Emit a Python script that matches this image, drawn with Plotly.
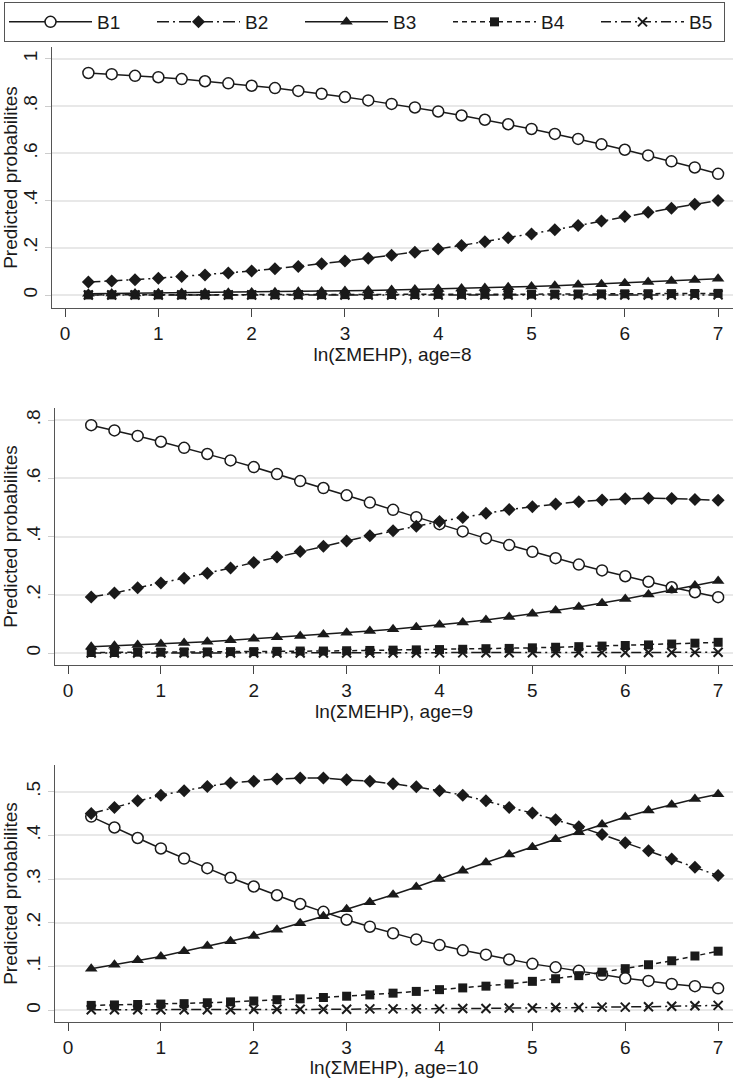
import plotly.graph_objects as go

W, H = 733, 1078

x_vals = [0.25, 0.5, 0.75, 1.0, 1.25, 1.5, 1.75, 2.0, 2.25, 2.5, 2.75, 3.0, 3.25, 3.5,
          3.75, 4.0, 4.25, 4.5, 4.75, 5.0, 5.25, 5.5, 5.75, 6.0, 6.25, 6.5, 6.75, 7.0]

series_names = ["B1", "B2", "B3", "B4", "B5"]

# age = 8
age8_B1 = [.940, .935, .928, .922, .914, .905, .896, .886, .876, .864, .852, .838, .824, .809,
           .794, .777, .760, .742, .723, .703, .682, .661, .638, .615, .591, .566, .540, .513]
age8_B2 = [.055, .059, .065, .071, .078, .085, .093, .102, .111, .121, .132, .144, .156, .168,
           .181, .195, .210, .226, .242, .258, .276, .294, .313, .332, .350, .367, .384, .400]
age8_B3 = [.005, .006, .006, .007, .008, .009, .010, .011, .012, .014, .015, .017, .019, .021,
           .023, .025, .028, .030, .033, .036, .039, .043, .046, .050, .055, .059, .064, .069]
age8_B4 = [.0005, .0005, .0006, .0007, .0008, .0009, .0010, .0011, .0012, .0014, .0015, .0017, .0019, .0021,
           .0023, .0025, .0028, .0030, .0033, .0036, .0039, .0043, .0047, .0051, .0055, .0060, .0065, .0070]
age8_B5 = [.0001, .0001, .0001, .0001, .0001, .0001, .0001, .0001, .0001, .0001, .0001, .0001, .0001, .0001,
           .0002, .0002, .0002, .0002, .0002, .0002, .0002, .0002, .0003, .0003, .0003, .0003, .0003, .0004]

# age = 9
age9_B1 = [.783, .765, .746, .726, .705, .684, .662, .639, .615, .591, .567, .542, .517, .492,
           .467, .443, .418, .394, .371, .348, .326, .304, .284, .264, .245, .226, .209, .192]
age9_B2 = [.193, .206, .224, .241, .257, .274, .292, .311, .330, .349, .367, .385, .403, .420,
           .436, .452, .466, .480, .493, .503, .512, .520, .526, .530, .532, .531, .528, .525]
age9_B3 = [.022, .025, .028, .031, .035, .039, .044, .049, .054, .059, .064, .070, .076, .082,
           .089, .097, .105, .114, .124, .135, .146, .158, .171, .186, .201, .216, .232, .248]
age9_B4 = [.002, .002, .003, .003, .004, .004, .005, .005, .006, .007, .007, .008, .009, .010,
           .011, .012, .013, .015, .016, .018, .020, .022, .024, .026, .028, .031, .034, .037]
age9_B5 = [.0001, .0001, .0001, .0001, .0002, .0002, .0002, .0002, .0003, .0003, .0003, .0004, .0004, .0005,
           .0005, .0006, .0007, .0008, .0009, .0010, .0011, .0013, .0015, .0017, .0019, .0022, .0025, .0028]

# age = 10
age10_B1 = [.443, .418, .394, .370, .347, .325, .303, .283, .263, .243, .225, .207, .191, .176,
            .162, .149, .137, .127, .116, .106, .098, .090, .081, .073, .067, .060, .055, .050]
age10_B2 = [.450, .464, .479, .492, .502, .512, .520, .524, .529, .531, .531, .527, .524, .518,
            .511, .502, .492, .479, .464, .451, .436, .420, .402, .383, .365, .346, .327, .308]
age10_B3 = [.095, .104, .114, .123, .135, .147, .158, .170, .184, .199, .215, .231, .247, .264,
            .282, .300, .319, .338, .356, .373, .391, .407, .425, .442, .457, .470, .483, .494]
age10_B4 = [.011, .012, .013, .014, .015, .017, .019, .021, .024, .026, .029, .032, .035, .039,
            .043, .047, .051, .055, .060, .066, .072, .079, .087, .095, .104, .113, .124, .135]
age10_B5 = [.001, .001, .001, .001, .001, .001, .001, .002, .002, .002, .002, .002, .003, .003,
            .003, .003, .004, .004, .005, .005, .006, .006, .007, .007, .008, .009, .010, .011]

panels = [
    [age8_B1, age8_B2, age8_B3, age8_B4, age8_B5],
    [age9_B1, age9_B2, age9_B3, age9_B4, age9_B5],
    [age10_B1, age10_B2, age10_B3, age10_B4, age10_B5],
]
x_titles = ["ln(\u03a3MEHP), age=8", "ln(\u03a3MEHP), age=9", "ln(\u03a3MEHP), age=10"]
y_ticks = [[0, .2, .4, .6, .8, 1], [0, .2, .4, .6, .8], [0, .1, .2, .3, .4, .5]]
y_ticktext = [["0", ".2", ".4", ".6", ".8", "1"], ["0", ".2", ".4", ".6", ".8"],
              ["0", ".1", ".2", ".3", ".4", ".5"]]
y_ranges = [[-0.055, 1.05], [-0.041, 0.842], [-0.027, 0.561]]
x_ticks = [0, 1, 2, 3, 4, 5, 6, 7]

INK = "#1a1a1a"
styles = [
    dict(dash="solid", symbol="circle", size=11, fill="white", lw=1.5),
    dict(dash="12px,4px,2px,4px", symbol="diamond", size=10, fill=INK, lw=0),
    dict(dash="solid", symbol="triangle-up", size=11, fill=INK, lw=0),
    dict(dash="5px,4px", symbol="square", size=9, fill=INK, lw=0),
    dict(dash="10px,4px,2px,4px", symbol="x-thin-open", size=9, fill=INK, lw=2),
]

# pixel layout of the plot regions (left, top, bottom)
regions = [(52, 47, 308), (55, 408, 665), (55, 765, 1022)]

FONT = "Liberation Sans, Arial, sans-serif"
fig = go.Figure()
layout = dict(
    width=W, height=H, margin=dict(l=0, r=0, t=0, b=0),
    paper_bgcolor="white", plot_bgcolor="white",
    font=dict(family=FONT, size=19, color=INK),
    showlegend=True,
    legend=dict(orientation="h", x=4 / W, y=1 - 2 / H, xanchor="left", yanchor="top",
                bordercolor="#555555", borderwidth=1, bgcolor="white",
                font=dict(size=19), entrywidth=50, itemwidth=83),
)

for p, data in enumerate(panels):
    xa = "x" if p == 0 else f"x{p+1}"
    ya = "y" if p == 0 else f"y{p+1}"
    for s, (name, vals) in enumerate(zip(series_names, data)):
        st = styles[s]
        mk = dict(symbol=st["symbol"], size=st["size"], color=st["fill"],
                  line=dict(color=INK, width=st["lw"]))
        extra = {}
        if p == 0 and s == len(series_names) - 1:
            extra["legendwidth"] = 30
        fig.add_trace(go.Scatter(
            x=x_vals, y=vals, name=name, mode="lines+markers",
            line=dict(color=INK, width=1.5, dash=st["dash"]),
            marker=mk, xaxis=xa, yaxis=ya,
            legendgroup=name, showlegend=(p == 0), **extra,
        ))
    left, top, bottom = regions[p]
    xkey = "xaxis" if p == 0 else f"xaxis{p+1}"
    ykey = "yaxis" if p == 0 else f"yaxis{p+1}"
    layout[xkey] = dict(
        domain=[left / W, 1], anchor=ya, range=[-0.14, 7.16],
        tickvals=x_ticks, ticks="outside", ticklen=8, tickwidth=1.2, tickcolor="#444444",
        showline=True, linecolor="#555555", linewidth=1.2, showgrid=False, zeroline=False,
        title=dict(text=x_titles[p], standoff=2, font=dict(size=19)),
        tickfont=dict(size=19),
    )
    layout[ykey] = dict(
        domain=[1 - bottom / H, 1 - top / H], anchor=xa, range=y_ranges[p],
        tickvals=y_ticks[p], ticktext=y_ticktext[p], tickangle=-90,
        ticks="outside", ticklen=6, tickcolor="#cccccc",
        showline=True, linecolor="#555555", linewidth=1.2,
        showgrid=True, gridcolor="#e8e8e8", gridwidth=1.5, zeroline=False,
        title=dict(text="Predicted probabilites", standoff=4, font=dict(size=19)),
        tickfont=dict(size=19),
    )

fig.update_layout(**layout)
fig.write_html("out.html", config={"displayModeBar": False},
               post_script="document.body.style.margin='0px';")
